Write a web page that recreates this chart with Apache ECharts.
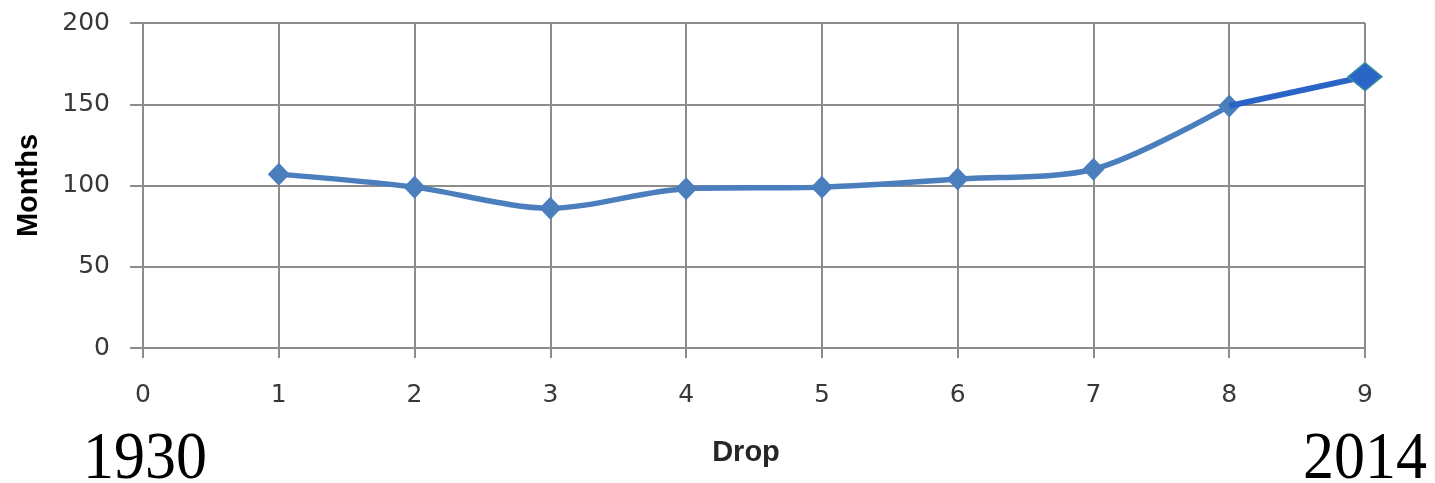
<!DOCTYPE html>
<html>
<head>
<meta charset="utf-8">
<title>Months per drop</title>
<script src="https://cdn.jsdelivr.net/npm/echarts@6/dist/echarts.min.js"></script>
<style>
  html, body { margin: 0; padding: 0; background: #ffffff; }
  #chart { width: 1435px; height: 483px; }
</style>
</head>
<body>
<div id="chart"></div>
<script>
// Drop number and the length of each drop in months
const drops = [1, 2, 3, 4, 5, 6, 7, 8, 9];
const months = [107, 99, 86, 98, 99, 104, 110, 149, 167];
const yTicks = [0, 50, 100, 150, 200];
const startYear = '1930';
const endYear = '2014';

const gridColor = '#8c8c8c';
const lineBlue = '#4a7ebd';
const lastBlue = '#2a64c6';

// Earlier drops: smoothed line; the latest drop is drawn as its own segment
const history = drops.slice(0, 8).map((d, i) => [d, months[i]]);
const latest = [
  { value: [drops[7], months[7]], symbol: 'none' },
  { value: [drops[8], months[8]] }
];

const chart = echarts.init(document.getElementById('chart'));
chart.setOption({
  animation: false,
  grid: { left: 143, right: 70, top: 23, bottom: 135 },
  xAxis: {
    type: 'value',
    min: 0, max: 9, interval: 1,
    name: 'Drop',
    nameLocation: 'middle',
    nameGap: 90,
    nameTextStyle: { fontFamily: 'Liberation Sans', fontWeight: 'bold', fontSize: 29, color: '#262626', padding: [0, 16, 0, 0] },
    axisLine: { show: true, lineStyle: { color: gridColor, width: 2 } },
    axisTick: { show: true, length: 10, lineStyle: { color: gridColor, width: 2 } },
    axisLabel: { margin: 35, fontFamily: 'DejaVu Sans', fontSize: 25, color: '#383838' },
    splitLine: { show: true, lineStyle: { color: gridColor, width: 2 } }
  },
  yAxis: {
    type: 'value',
    min: yTicks[0], max: yTicks[yTicks.length - 1], interval: 50,
    name: 'Months',
    nameLocation: 'middle',
    nameGap: 100,
    nameRotate: 90,
    nameTextStyle: { fontFamily: 'Liberation Sans', fontWeight: 'bold', fontSize: 29, color: '#000000' },
    axisLine: { show: true, lineStyle: { color: gridColor, width: 2 } },
    axisTick: { show: true, length: 13, lineStyle: { color: gridColor, width: 2 } },
    axisLabel: { margin: 33, fontFamily: 'DejaVu Sans', fontSize: 25, color: '#383838' },
    splitLine: { show: true, lineStyle: { color: gridColor, width: 2 } }
  },
  series: [
    {
      type: 'line',
      data: history,
      smooth: 0.3,
      symbol: 'diamond',
      symbolSize: [22, 23],
      lineStyle: { color: lineBlue, width: 5.5 },
      itemStyle: { color: lineBlue },
      z: 3
    },
    {
      type: 'line',
      data: latest,
      symbol: 'diamond',
      symbolSize: [34, 28],
      lineStyle: { color: lastBlue, width: 6 },
      itemStyle: { color: lastBlue, borderColor: '#3a8f9a', borderWidth: 1.5 },
      z: 4
    }
  ],
  graphic: [
    {
      type: 'text', left: 83, top: 427, scaleY: 1.08,
      style: { text: startYear, font: '62px "Liberation Serif"', fill: '#000000' }
    },
    {
      type: 'text', left: 1303, top: 427, scaleY: 1.08,
      style: { text: endYear, font: '62px "Liberation Serif"', fill: '#000000' }
    }
  ]
});
</script>
</body>
</html>
